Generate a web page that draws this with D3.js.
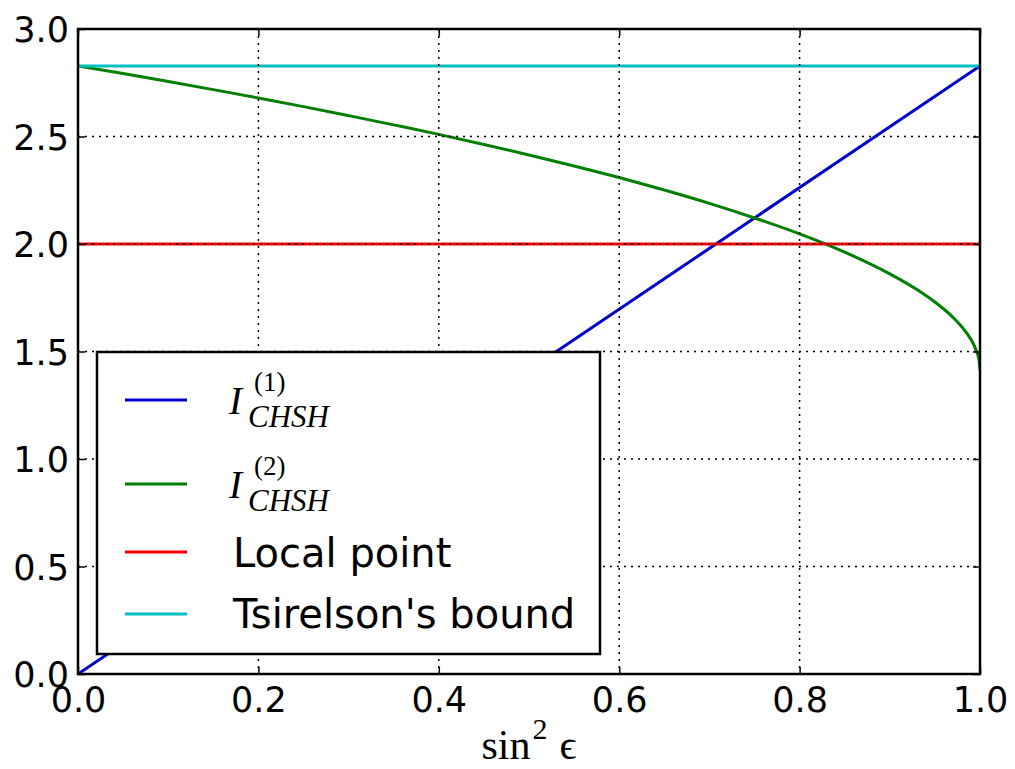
<!DOCTYPE html>
<html><head><meta charset="utf-8">
<script src="https://cdn.jsdelivr.net/npm/d3@7"></script>
<style>body{margin:0;background:#fff}</style>
</head><body>
<script>
const xTicks = [0, 0.2, 0.4, 0.6, 0.8, 1.0];
const yTicks = [0, 0.5, 1.0, 1.5, 2.0, 2.5, 3.0];
// I_CHSH^(1): straight line
const s1 = [0, 0.25, 0.5, 0.75, 1.0];
const i1 = [0, 0.707, 1.414, 2.121, 2.828];
// I_CHSH^(2): curve
const s2 = [0, 0.05, 0.1, 0.15, 0.2, 0.25, 0.3, 0.35, 0.4, 0.45, 0.5, 0.55, 0.6, 0.65, 0.7, 0.75, 0.8, 0.85, 0.9, 0.93, 0.95, 0.97, 0.98, 0.99, 0.995, 0.9975, 0.999, 1.0];
const i2 = [2.828, 2.793, 2.756, 2.718, 2.679, 2.639, 2.597, 2.554, 2.510, 2.463, 2.414, 2.363, 2.309, 2.251, 2.189, 2.121, 2.047, 1.962, 1.861, 1.788, 1.730, 1.659, 1.614, 1.556, 1.514, 1.485, 1.459, 1.414];
const localPoint = 2.0;
const tsirelson = 2.828;
const seriesNames = ["I1", "I2", "Local point", "Tsirelson's bound"];
const colors = ["#0000cc", "#007f00", "#ff0000", "#00bfbf"];

const W = 1015, H = 769;
const L = 78, R = 980, T = 29, B = 674;
const x = d3.scaleLinear().domain([0, 1]).range([L, R]);
const y = d3.scaleLinear().domain([0, 3]).range([B, T]);

const svg = d3.select("body").append("svg").attr("width", W).attr("height", H);
svg.append("rect").attr("width", W).attr("height", H).attr("fill", "#fff");

svg.append("clipPath").attr("id", "clip").append("rect")
  .attr("x", L).attr("y", T).attr("width", R - L).attr("height", B - T);

const line = d3.line().x(d => x(d[0])).y(d => y(d[1]));
const g = svg.append("g").attr("clip-path", "url(#clip)");
const data = [
  d3.zip(s1, i1),
  d3.zip(s2, i2),
  [[0, localPoint], [1, localPoint]],
  [[0, tsirelson], [1, tsirelson]]
];
const curves = [d3.curveLinear, d3.curveMonotoneX, d3.curveLinear, d3.curveLinear];
data.forEach((d, k) => {
  g.append("path").attr("d", line.curve(curves[k])(d))
    .attr("fill", "none").attr("stroke", colors[k]).attr("stroke-width", 3);
});

// grid (on top of lines, classic style)
const grid = svg.append("g").attr("stroke", "#000").attr("stroke-width", 1.5).attr("stroke-dasharray", "2,5");
xTicks.forEach(t => grid.append("line").attr("x1", x(t)).attr("x2", x(t)).attr("y1", T).attr("y2", B));
yTicks.forEach(t => grid.append("line").attr("y1", y(t)).attr("y2", y(t)).attr("x1", L).attr("x2", R));

// axes with inward ticks on all sides
const fmt = d3.format(".1f");
const axB = svg.append("g").attr("transform", `translate(0,${B})`)
  .call(d3.axisBottom(x).tickValues(xTicks).tickFormat(fmt).tickSizeInner(-7).tickSizeOuter(0).tickPadding(13));
const axT = svg.append("g").attr("transform", `translate(0,${T})`)
  .call(d3.axisTop(x).tickValues(xTicks).tickFormat("").tickSizeInner(-7).tickSizeOuter(0));
const axL = svg.append("g").attr("transform", `translate(${L},0)`)
  .call(d3.axisLeft(y).tickValues(yTicks).tickFormat(fmt).tickSizeInner(-7).tickSizeOuter(0).tickPadding(9));
const axR = svg.append("g").attr("transform", `translate(${R},0)`)
  .call(d3.axisRight(y).tickValues(yTicks).tickFormat("").tickSizeInner(-7).tickSizeOuter(0));
[axB, axT, axL, axR].forEach(a => {
  a.select(".domain").remove();
  a.selectAll(".tick line").attr("stroke", "#000").attr("stroke-width", 1.5);
  a.selectAll("text").attr("font-family", "DejaVu Sans").attr("font-size", 35).attr("fill", "#000");
});
axL.selectAll("text").attr("dy", "0.36em");

svg.append("rect").attr("x", L).attr("y", T).attr("width", R - L).attr("height", B - T)
  .attr("fill", "none").attr("stroke", "#000").attr("stroke-width", 2.5);

// x label
const xl = svg.append("text").attr("x", (L + R) / 2).attr("y", 759).attr("text-anchor", "middle")
  .attr("font-family", "Liberation Serif").attr("font-size", 42).attr("fill", "#000");
xl.append("tspan").text("sin");
xl.append("tspan").attr("font-size", 30).attr("dx", 2).attr("dy", -20).text("2");
xl.append("tspan").attr("dy", 20).attr("dx", 12).text("\u03F5");

// legend
const leg = svg.append("g");
leg.append("rect").attr("x", 97).attr("y", 352).attr("width", 503).attr("height", 302)
  .attr("fill", "#fff").attr("stroke", "#000").attr("stroke-width", 2.5);
const rowsY = [400, 484, 552, 614];
rowsY.forEach((ry, k) => {
  leg.append("line").attr("x1", 125).attr("x2", 187).attr("y1", ry).attr("y2", ry)
    .attr("stroke", colors[k]).attr("stroke-width", 3);
});
function mathLabel(base, sup) {
  leg.append("text").attr("x", 229).attr("y", base).attr("font-family", "Liberation Serif")
    .attr("font-style", "italic").attr("font-size", 39).attr("fill", "#000").text("I");
  leg.append("text").attr("x", 248).attr("y", base + 13).attr("font-family", "Liberation Serif")
    .attr("font-style", "italic").attr("font-size", 31).attr("fill", "#000").text("CHSH");
  leg.append("text").attr("x", 254).attr("y", base - 23).attr("font-family", "Liberation Serif")
    .attr("font-size", 27).attr("fill", "#000").text(sup);
}
mathLabel(414, "(1)");
mathLabel(498, "(2)");
leg.append("text").attr("x", 233).attr("y", 567).attr("font-family", "DejaVu Sans")
  .attr("font-size", 40).attr("fill", "#000").text("Local point");
leg.append("text").attr("x", 233).attr("y", 628).attr("font-family", "DejaVu Sans")
  .attr("font-size", 40).attr("fill", "#000").text("Tsirelson's bound");
</script>
</body></html>
